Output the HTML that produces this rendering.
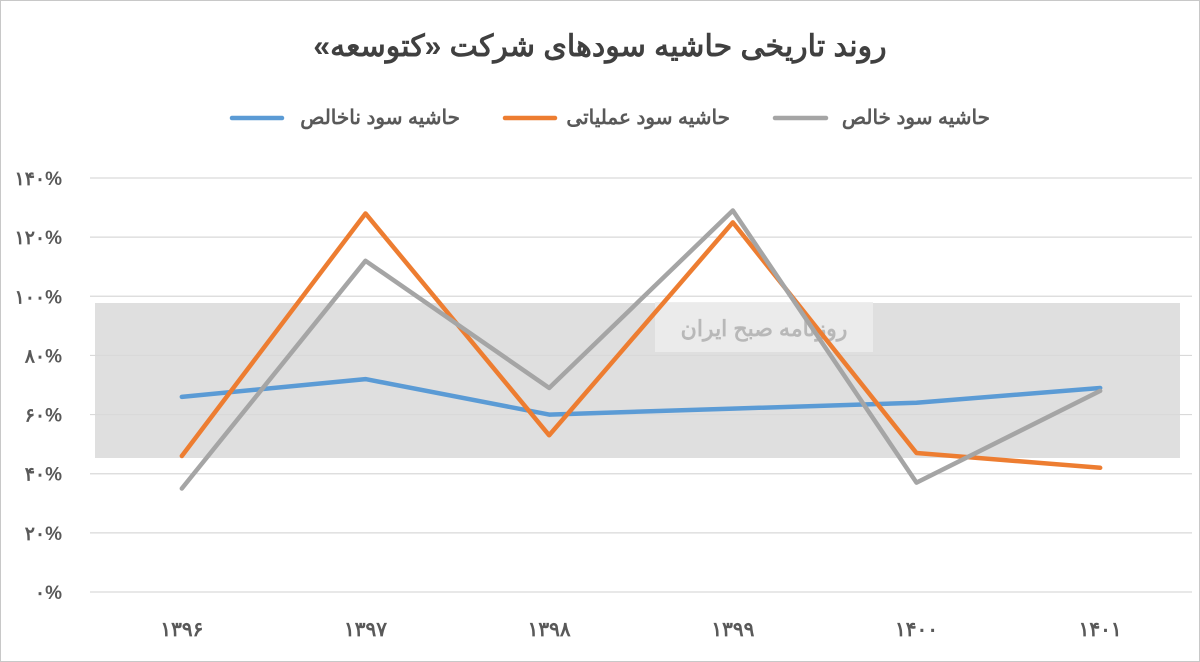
<!DOCTYPE html>
<html><head><meta charset="utf-8">
<style>
html,body{margin:0;padding:0;background:#fff;}
svg{display:block;font-family:"Liberation Sans","Noto Sans CJK SC",sans-serif;}
</style></head>
<body>
<svg id="chart" width="1200" height="662" viewBox="0 0 1200 662">
<rect x="0.5" y="0.5" width="1199" height="661" fill="#fff" stroke="#c8c8c8"/>
<text x="600" y="56" text-anchor="middle" font-size="30" font-weight="bold" fill="#404040" direction="rtl">روند تاریخی حاشیه سودهای شرکت «کتوسعه»</text>
<rect x="95" y="303" width="1085" height="155" fill="#d4d4d4" opacity="0.75"/>
<rect x="655" y="302" width="218" height="50" fill="#ececec" opacity="0.9"/>
<text x="764" y="336" text-anchor="middle" font-size="22" font-weight="bold" fill="#b8b8b8" direction="rtl">روزنامه صبح ایران</text>
<g id="grid"></g>
<g id="yticks"></g>
<g id="xticks"></g>
<g id="series"></g>
<g id="legend"></g>
</svg>
<script>
const categories = ["۱۳۹۶","۱۳۹۷","۱۳۹۸","۱۳۹۹","۱۴۰۰","۱۴۰۱"];
const grossMargin = [66, 72, 60, 62, 64, 69];
const operatingMargin = [46, 128, 53, 125, 47, 42];
const netMargin = [35, 112, 69, 129, 37, 68];
const yTickValues = [0, 20, 40, 60, 80, 100, 120, 140];
const yTickLabels = ["۰%","۲۰%","۴۰%","۶۰%","۸۰%","۱۰۰%","۱۲۰%","۱۴۰%"];
const seriesNames = ["حاشیه سود ناخالص","حاشیه سود عملیاتی","حاشیه سود خالص"];

const NS = "http://www.w3.org/2000/svg";
const plotLeft = 90, plotRight = 1192, y0 = 592, yTop = 178, yMax = 140;
const yScale = v => y0 - (v / yMax) * (y0 - yTop);
const step = (plotRight - plotLeft) / categories.length;
const xScale = i => plotLeft + step * (i + 0.5);
function mk(tag, attrs, parent){const e=document.createElementNS(NS,tag);for(const k in attrs)e.setAttribute(k,attrs[k]);parent.appendChild(e);return e;}

const grid = document.getElementById("grid");
const yt = document.getElementById("yticks");
yTickValues.forEach((v,i)=>{
  const l = mk("line",{x1:plotLeft,x2:plotRight,y1:yScale(v),y2:yScale(v),stroke:"#d9d9d9","stroke-width":1.2},grid);
  
  
  const t = mk("text",{x:62,y:yScale(v)+7,"text-anchor":"end","font-size":19,"font-weight":"bold",fill:"#595959"},yt);
  t.textContent = yTickLabels[i];
  
  
});
const xt = document.getElementById("xticks");
categories.forEach((c,i)=>{
  const t = mk("text",{x:xScale(i),y:636,"text-anchor":"middle","font-size":20,"font-weight":"bold",fill:"#595959"},xt);
  t.textContent = c;
  
  
});
const sg = document.getElementById("series");
const colors = ["#5b9bd5","#ed7d31","#a5a5a5"];
const allData = [grossMargin, operatingMargin, netMargin];
const sNames = ["gross-margin-line","operating-margin-line","net-margin-line"];
[0,1,2].forEach(s=>{
  const pts = allData[s].map((v,i)=>xScale(i)+","+yScale(v)).join(" ");
  const p = mk("polyline",{points:pts,fill:"none",stroke:colors[s],"stroke-width":4.5,"stroke-linejoin":"round","stroke-linecap":"round"},sg);
  
  
});
const lg = document.getElementById("legend");
const legX = [[232,282,460],[505,555,730],[775,826,990]];
[0,1,2].forEach(s=>{
  const l = mk("line",{x1:legX[s][0],x2:legX[s][1],y1:118,y2:118,stroke:colors[s],"stroke-width":4.5,"stroke-linecap":"round"},lg);
  
  
  const t = mk("text",{x:legX[s][2],y:124,"text-anchor":"end","font-size":20,"font-weight":"bold",fill:"#595959"},lg);
  t.textContent = seriesNames[s];
  
  
});
</script>
</body></html>
